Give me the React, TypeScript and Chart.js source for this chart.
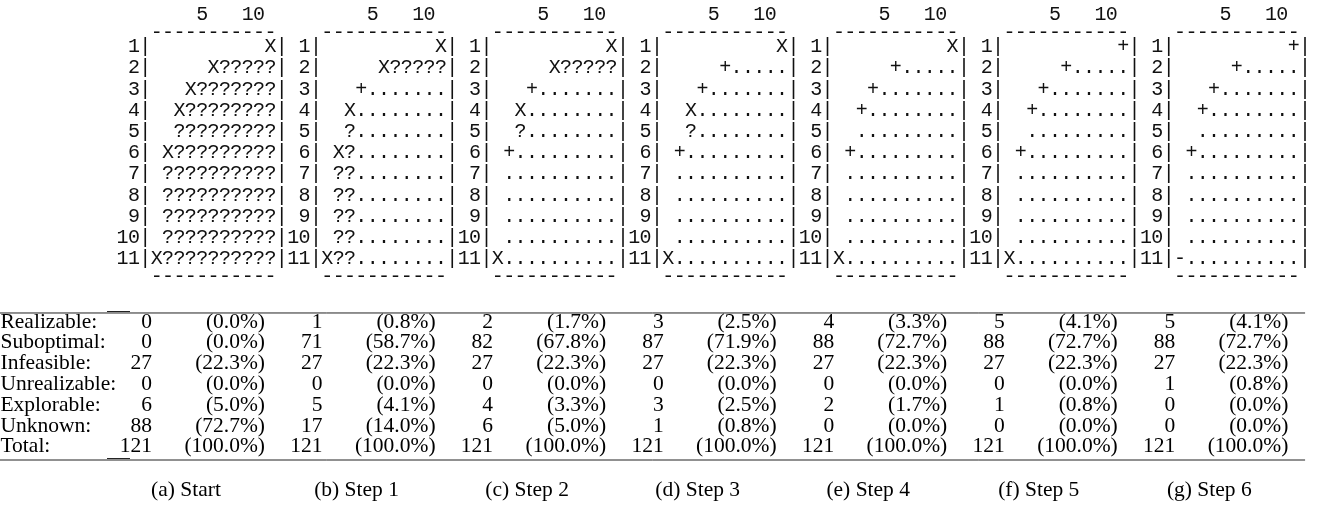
import React, { useEffect, useRef } from 'react';
import { Chart, registerables } from 'chart.js';

Chart.register(...registerables);

// ---------------- DATA ----------------
const gridStart = [
  '          X',
  '     X?????',
  '   X???????',
  '  X????????',
  '  ?????????',
  ' X?????????',
  ' ??????????',
  ' ??????????',
  ' ??????????',
  ' ??????????',
  'X??????????',
];
const gridStep1 = [
  '          X',
  '     X?????',
  '   +.......',
  '  X........',
  '  ?........',
  ' X?........',
  ' ??........',
  ' ??........',
  ' ??........',
  ' ??........',
  'X??........',
];
const gridStep2 = [
  '          X',
  '     X?????',
  '   +.......',
  '  X........',
  '  ?........',
  ' +.........',
  ' ..........',
  ' ..........',
  ' ..........',
  ' ..........',
  'X..........',
];
const gridStep3 = [
  '          X',
  '     +.....',
  '   +.......',
  '  X........',
  '  ?........',
  ' +.........',
  ' ..........',
  ' ..........',
  ' ..........',
  ' ..........',
  'X..........',
];
const gridStep4 = [
  '          X',
  '     +.....',
  '   +.......',
  '  +........',
  '  .........',
  ' +.........',
  ' ..........',
  ' ..........',
  ' ..........',
  ' ..........',
  'X..........',
];
const gridStep5 = [
  '          +',
  '     +.....',
  '   +.......',
  '  +........',
  '  .........',
  ' +.........',
  ' ..........',
  ' ..........',
  ' ..........',
  ' ..........',
  'X..........',
];
const gridStep6 = [
  '          +',
  '     +.....',
  '   +.......',
  '  +........',
  '  .........',
  ' +.........',
  ' ..........',
  ' ..........',
  ' ..........',
  ' ..........',
  '-..........',
];
const grids = [gridStart, gridStep1, gridStep2, gridStep3, gridStep4, gridStep5, gridStep6];

const rowLabels = ['1', '2', '3', '4', '5', '6', '7', '8', '9', '10', '11'];
const columnTickCols = [5, 10];
const columnTickLabels = ['5', '10'];

const stepCaptions = ['(a) Start', '(b) Step 1', '(c) Step 2', '(d) Step 3', '(e) Step 4', '(f) Step 5', '(g) Step 6'];

const categories = ['Realizable:', 'Suboptimal:', 'Infeasible:', 'Unrealizable:', 'Explorable:', 'Unknown:', 'Total:'];
const realizable = [0, 1, 2, 3, 4, 5, 5];
const realizablePct = ['0.0', '0.8', '1.7', '2.5', '3.3', '4.1', '4.1'];
const suboptimal = [0, 71, 82, 87, 88, 88, 88];
const suboptimalPct = ['0.0', '58.7', '67.8', '71.9', '72.7', '72.7', '72.7'];
const infeasible = [27, 27, 27, 27, 27, 27, 27];
const infeasiblePct = ['22.3', '22.3', '22.3', '22.3', '22.3', '22.3', '22.3'];
const unrealizable = [0, 0, 0, 0, 0, 0, 1];
const unrealizablePct = ['0.0', '0.0', '0.0', '0.0', '0.0', '0.0', '0.8'];
const explorable = [6, 5, 4, 3, 2, 1, 0];
const explorablePct = ['5.0', '4.1', '3.3', '2.5', '1.7', '0.8', '0.0'];
const unknown = [88, 17, 6, 1, 0, 0, 0];
const unknownPct = ['72.7', '14.0', '5.0', '0.8', '0.0', '0.0', '0.0'];
const total = [121, 121, 121, 121, 121, 121, 121];
const totalPct = ['100.0', '100.0', '100.0', '100.0', '100.0', '100.0', '100.0'];

const tableCounts = [realizable, suboptimal, infeasible, unrealizable, explorable, unknown, total];
const tablePcts = [realizablePct, suboptimalPct, infeasiblePct, unrealizablePct, explorablePct, unknownPct, totalPct];

// ---------------- LAYOUT (in scale units) ----------------
const PANEL_CHARS = 15;
const X_MIN = -10.783;
const X_MAX = 106.016;
const Y_MIN = -1.217;
const Y_MAX = 22.745;
const HEADER_ROW = -0.509;
const TOP_DASH_ROW = 0.34;
const BOTTOM_DASH_ROW = 11.849;
const YT_MIN = -15.481;
const YT_MAX = 8.942;
const TABLE_LABEL_X = -10.74;
const COUNT_RIGHT = 2.586;
const PCT_RIGHT = 12.524;
const CAPTION_CENTER = 5.576;
const CAPTION_ROW = 8.077;
const RULE_TOP = -0.433;
const RULE_BOTTOM = 6.635;
const RULE_END = 104.0;
const RULE_NUDGE = 0.072;
const NUDGE_X0 = -1.37;
const NUDGE_X1 = 0.65;

const MONO_FONT = "20px 'Liberation Mono', 'DejaVu Sans Mono', monospace";
const SERIF_FONT = "21.5px 'Liberation Serif', 'DejaVu Serif', serif";

type Glyph = { x: number; y: number; c: string; align?: CanvasTextAlign };

function buildGridGlyphs() {
  const cells: Record<string, Glyph[]> = { X: [], '?': [], '.': [], '+': [], '-': [] };
  const frame: Glyph[] = [];
  grids.forEach((g, p) => {
    const base = p * PANEL_CHARS;
    g.forEach((row, r) => {
      const rowNum = r + 1;
      const lab = rowLabels[r].padStart(2, ' ');
      for (let k = 0; k < 2; k++) if (lab[k] !== ' ') frame.push({ x: base + k, y: rowNum, c: lab[k] });
      frame.push({ x: base + 2, y: rowNum, c: '|' });
      frame.push({ x: base + 14, y: rowNum, c: '|' });
      for (let c = 0; c < row.length; c++) {
        const ch = row[c];
        if (ch !== ' ') cells[ch].push({ x: base + 3 + c, y: rowNum, c: ch });
      }
    });
    columnTickCols.forEach((t, i) => {
      const s = columnTickLabels[i];
      for (let j = 0; j < s.length; j++) {
        frame.push({ x: base + 2 + t - (s.length - 1 - j), y: HEADER_ROW, c: s[j] });
      }
    });
    for (let c = 1; c <= 11; c++) {
      frame.push({ x: base + 2 + c, y: TOP_DASH_ROW, c: '-' });
      frame.push({ x: base + 2 + c, y: BOTTOM_DASH_ROW, c: '-' });
    }
  });
  return { cells, frame };
}

function buildTableGlyphs() {
  const labels: Glyph[] = categories.map((c, r) => ({ x: TABLE_LABEL_X, y: r, c, align: 'left' }));
  const counts: Glyph[] = [];
  const pcts: Glyph[] = [];
  tableCounts.forEach((arr, r) => {
    arr.forEach((v, p) => {
      counts.push({ x: p * PANEL_CHARS + COUNT_RIGHT, y: r, c: String(v), align: 'right' });
      pcts.push({ x: p * PANEL_CHARS + PCT_RIGHT, y: r, c: '(' + tablePcts[r][p] + '%)', align: 'right' });
    });
  });
  const captions: Glyph[] = stepCaptions.map((c, p) => ({ x: p * PANEL_CHARS + CAPTION_CENTER, y: CAPTION_ROW, c, align: 'center' }));
  return { labels, counts, pcts, captions };
}

const textPlugin = {
  id: 'glyphText',
  afterDatasetsDraw(chart: any) {
    const ctx: CanvasRenderingContext2D = chart.ctx;
    chart.data.datasets.forEach((ds: any, i: number) => {
      if (!ds.glyphFont) return;
      const meta = chart.getDatasetMeta(i);
      ctx.save();
      ctx.font = ds.glyphFont;
      ctx.fillStyle = ds.glyphColor || '#111';
      ctx.textBaseline = 'middle';
      meta.data.forEach((el: any, j: number) => {
        const d = ds.data[j] as Glyph;
        ctx.textAlign = d.align || 'center';
        ctx.fillText(d.c, el.x, el.y);
      });
      ctx.restore();
    });
  },
};

export default function App() {
  const ref = useRef<HTMLCanvasElement | null>(null);

  useEffect(() => {
    if (!ref.current) return;
    const { cells, frame } = buildGridGlyphs();
    const { labels, counts, pcts, captions } = buildTableGlyphs();
    const monoColor = '#111';
    const textDs = (label: string, data: Glyph[], font: string, color: string, axis = 'y') => ({
      label,
      data,
      yAxisID: axis,
      pointRadius: 0,
      pointHoverRadius: 0,
      showLine: false,
      glyphFont: font,
      glyphColor: color,
    });
    const ruleDs = (y: number, x0: number, x1: number, w = 1) => ({
      type: 'line',
      data: [{ x: x0, y }, { x: x1, y }],
      yAxisID: 'yt',
      borderColor: '#222',
      borderWidth: w,
      pointRadius: 0,
      showLine: true,
      fill: false,
    });
    const chart = new Chart(ref.current, {
      type: 'scatter',
      data: {
        datasets: [
          textDs('frame', frame, MONO_FONT, monoColor),
          textDs('explorable', cells['X'], MONO_FONT, monoColor),
          textDs('unknown', cells['?'], MONO_FONT, monoColor),
          textDs('suboptimal', cells['.'], MONO_FONT, monoColor),
          textDs('realizable', cells['+'], MONO_FONT, monoColor),
          textDs('unrealizable', cells['-'], MONO_FONT, monoColor),
          textDs('labels', labels, SERIF_FONT, '#000', 'yt'),
          textDs('counts', counts, SERIF_FONT, '#000', 'yt'),
          textDs('pcts', pcts, SERIF_FONT, '#000', 'yt'),
          textDs('captions', captions, SERIF_FONT, '#000', 'yt'),
          ruleDs(RULE_TOP, X_MIN, RULE_END),
          ruleDs(RULE_BOTTOM, X_MIN, RULE_END),
          ruleDs(RULE_TOP - RULE_NUDGE, NUDGE_X0, NUDGE_X1, 1),
          ruleDs(RULE_BOTTOM - RULE_NUDGE, NUDGE_X0, NUDGE_X1, 1),
        ] as any,
      },
      options: {
        responsive: false,
        animation: false,
        devicePixelRatio: 1,
        layout: { padding: 0 },
        plugins: { legend: { display: false }, tooltip: { enabled: false } },
        events: [],
        scales: {
          x: { type: 'linear', min: X_MIN, max: X_MAX, display: false },
          y: { type: 'linear', min: Y_MIN, max: Y_MAX, reverse: true, display: false },
          yt: { type: 'linear', min: YT_MIN, max: YT_MAX, reverse: true, display: false },
        },
      } as any,
      plugins: [textPlugin],
    });
    return () => chart.destroy();
  }, []);

  return (
    <div style={{ position: 'absolute', left: 0, top: 0, width: 1328, height: 508, background: '#fff' }}>
      <canvas ref={ref} width={1328} height={508} style={{ display: 'block' }} />
    </div>
  );
}
